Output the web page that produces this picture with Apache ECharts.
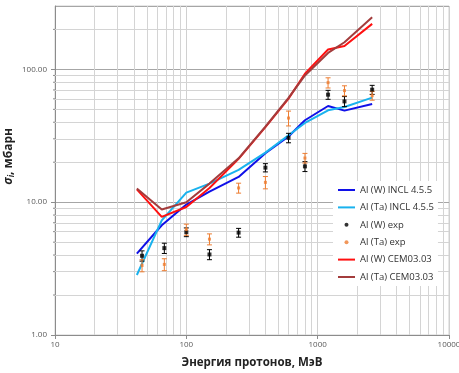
<!DOCTYPE html>
<html>
<head>
<meta charset="utf-8">
<script src="https://cdn.jsdelivr.net/npm/echarts@6/dist/echarts.min.js"></script>
<style>
  html, body { margin: 0; padding: 0; background: #fff; }
  #chart { width: 459px; height: 373px; }
</style>
</head>
<body>
<div id="chart"></div>
<script>
// Axis ticks (log scales)
const xTickLabels = [10, 100, 1000, 10000];
const yTickLabels = [1, 10, 100];
const xMinorGrid = [20, 30, 40, 50, 60, 70, 80, 90, 200, 300, 400, 500, 600, 700, 800, 900,
                    2000, 3000, 4000, 5000, 6000, 7000, 8000, 9000];
const yMinorGrid = [2, 3, 4, 5, 6, 7, 8, 9, 20, 30, 40, 50, 60, 70, 80, 90, 200];

// Calculated cross sections, mb
const calcEnergy = [42, 65, 100, 150, 250, 400, 600, 800, 1200, 1600, 2600];
const inclW  = [4.1, 6.7, 9.6, 12.0, 15.5, 23.4, 31.2, 41.4, 53, 48.9, 54.8];
const inclTa = [2.83, 7.3, 11.8, 13.8, 17.5, 23.6, 31.9, 39.5, 49.2, 52.1, 61.3];
const cemW   = [12.5, 7.75, 9.2, 12.8, 21.2, 36.8, 60.2, 92.8, 141, 150, 220];
const cemTa  = [12.7, 8.8, 10.0, 13.8, 21.4, 37, 61, 90, 133, 160, 247];

// Measured cross sections, mb, with absolute uncertainties
const expEnergy = [46, 68, 100, 150, 250, 400, 600, 800, 1200, 1600, 2600];
const expW     = [3.95, 4.51, 5.95, 4.04, 5.9, 18.2, 30.5, 18.6, 64.5, 57.4, 70.3];
const expWErr  = [0.35, 0.4, 0.45, 0.35, 0.45, 1.3, 2.5, 1.6, 5, 5, 5.5];
const expTa    = [3.34, 3.40, 6.23, 5.27, 12.8, 14.1, 43, 21.5, 79.4, 69.2, 63.4];
const expTaErr = [0.35, 0.35, 0.6, 0.5, 1.1, 1.5, 5.5, 1.8, 7, 6, 4.8];

const names = ['Al (W) INCL 4.5.5', 'Al (Ta) INCL 4.5.5', 'Al (W) exp', 'Al (Ta) exp',
               'Al (W) CEM03.03', 'Al (Ta) CEM03.03'];
const colors = { inclW: '#1010e8', inclTa: '#19b2ee', w: '#000000', ta: '#ed7d31', cemW: '#ff1010', cemTa: '#a33c3c' };

const FONT = 'Open Sans';

function pairs(xs, ys) { return xs.map((x, i) => [x, ys[i]]); }

function lineSeries(name, values, color) {
  return {
    name, type: 'line', data: pairs(calcEnergy, values),
    symbol: 'none', z: 7,
    lineStyle: { color, width: 2 }, itemStyle: { color }
  };
}

function errorSeries(values, errs, color) {
  return {
    type: 'custom', z: 8, silent: true,
    data: expEnergy.map((e, i) => [e, values[i] - errs[i], values[i] + errs[i]]),
    encode: { x: 0, y: [1, 2] },
    renderItem(params, api) {
      const lo = api.coord([api.value(0), api.value(1)]);
      const hi = api.coord([api.value(0), api.value(2)]);
      const cap = 2.5;
      const st = { stroke: color, lineWidth: 1 };
      return {
        type: 'group',
        children: [
          { type: 'line', shape: { x1: lo[0], y1: lo[1], x2: hi[0], y2: hi[1] }, style: st },
          { type: 'line', shape: { x1: lo[0] - cap, y1: lo[1], x2: lo[0] + cap, y2: lo[1] }, style: st },
          { type: 'line', shape: { x1: hi[0] - cap, y1: hi[1], x2: hi[0] + cap, y2: hi[1] }, style: st }
        ]
      };
    }
  };
}

// legend entry for a line series: plain line, no marker
function lineLegend(name, color) {
  return { name, itemStyle: { opacity: 0 }, lineStyle: { color, width: 2 } };
}

const chart = echarts.init(document.getElementById('chart'), null, { renderer: 'canvas' });

chart.setOption({
  animation: false,
  backgroundColor: '#fff',
  textStyle: { fontFamily: FONT },
  grid: { left: 55, right: 10, top: 6, bottom: 38, show: true, borderColor: '#d0d0d0', borderWidth: 1,
          containLabel: false, outerBoundsMode: 'none' },
  legend: {
    orient: 'vertical', left: 333, top: 181, z: 20,
    backgroundColor: '#ffffff', padding: [3, 4, 3, 4],
    itemWidth: 17, itemHeight: 4, itemGap: 5.4,
    textStyle: { fontFamily: FONT, fontSize: 9.5, color: '#333', lineHeight: 12 },
    data: [
      lineLegend(names[0], colors.inclW),
      lineLegend(names[1], colors.inclTa),
      { name: names[2], icon: 'circle' },
      { name: names[3], icon: 'circle' },
      lineLegend(names[4], colors.cemW),
      lineLegend(names[5], colors.cemTa)
    ]
  },
  xAxis: {
    type: 'log', logBase: 10, min: 10, max: 10000,
    name: 'Энергия протонов, МэВ', nameLocation: 'middle', nameGap: 22,
    nameTextStyle: { fontFamily: FONT, fontWeight: 'bold', fontSize: 11.5, color: '#222' },
    axisLine: { lineStyle: { color: '#8c8c8c' } },
    axisTick: { show: true, length: 4, lineStyle: { color: '#8c8c8c' } },
    axisLabel: { fontSize: 8, color: '#595959', margin: 6, formatter: v => String(Math.round(v)) },
    splitLine: { show: true, lineStyle: { color: '#d0d0d0', width: 1 } }
  },
  yAxis: {
    type: 'log', logBase: 10, min: 1, max: 300,
    axisLine: { show: true, lineStyle: { color: '#8c8c8c' } },
    axisTick: { show: true, length: 4, lineStyle: { color: '#8c8c8c' } },
    axisLabel: { fontSize: 8, color: '#595959', margin: 8, showMaxLabel: false,
                 formatter: v => yTickLabels.includes(Math.round(v)) ? Number(v).toFixed(2) : '' },
    splitLine: { show: true, lineStyle: { color: '#a6a6a6', width: 1 } }
  },
  graphic: [{
    type: 'text', left: 3, top: 128, rotation: Math.PI / 2,
    style: {
      text: '{s|σ}{i|i}{t|, мбарн}',
      rich: {
        s: { fontFamily: FONT, fontSize: 12, fontWeight: 'bold', fontStyle: 'italic', fill: '#222' },
        i: { fontFamily: FONT, fontSize: 8, fontWeight: 'bold', fontStyle: 'italic', fill: '#222', padding: [6, 0, 0, 0] },
        t: { fontFamily: FONT, fontSize: 12, fontWeight: 'bold', fill: '#222' }
      }
    }
  }],
  series: [
    // light minor grid lines
    {
      type: 'line', data: [[10, 1]], symbol: 'none', silent: true, z: 0,
      lineStyle: { opacity: 0 },
      markLine: {
        silent: true, symbol: 'none', label: { show: false }, animation: false,
        lineStyle: { color: '#d4d4d4', width: 1, type: 'solid' },
        data: [...xMinorGrid.map(v => ({ xAxis: v })), ...yMinorGrid.map(v => ({ yAxis: v }))]
      }
    },
    // short minor ticks on the value axis
    {
      type: 'custom', silent: true, z: 1, clip: false,
      data: yMinorGrid.map(v => [xTickLabels[0], v]),
      encode: { x: 0, y: 1 },
      renderItem(params, api) {
        const p = api.coord([api.value(0), api.value(1)]);
        return { type: 'line', shape: { x1: p[0] - 2, y1: p[1], x2: p[0], y2: p[1] },
                 style: { stroke: '#8c8c8c', lineWidth: 1 } };
      }
    },
    lineSeries(names[0], inclW, colors.inclW),
    lineSeries(names[1], inclTa, colors.inclTa),
    lineSeries(names[4], cemW, colors.cemW),
    lineSeries(names[5], cemTa, colors.cemTa),
    errorSeries(expW, expWErr, colors.w),
    errorSeries(expTa, expTaErr, colors.ta),
    {
      name: names[2], type: 'scatter', z: 9, symbol: 'rect', symbolSize: 4,
      data: pairs(expEnergy, expW), itemStyle: { color: colors.w }
    },
    {
      name: names[3], type: 'scatter', z: 9, symbol: 'rect', symbolSize: 3,
      data: pairs(expEnergy, expTa), itemStyle: { color: colors.ta }
    }
  ]
});
</script>
</body>
</html>
